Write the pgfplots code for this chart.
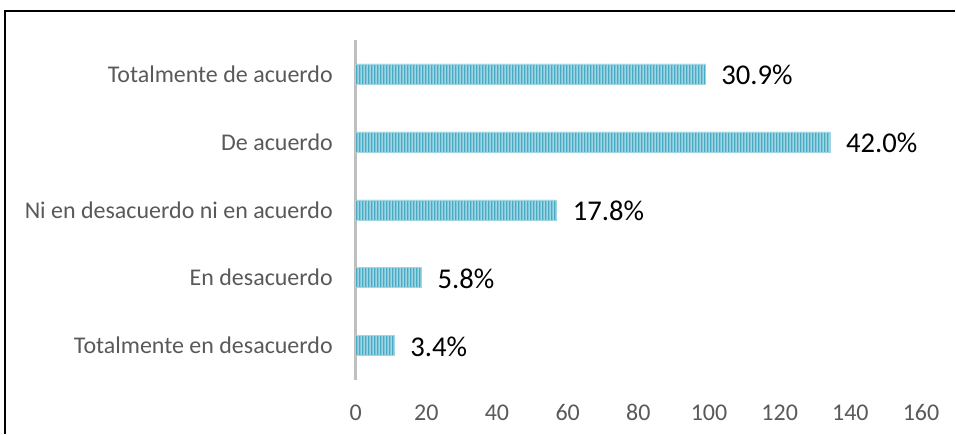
\documentclass[border=0pt]{standalone}
\usepackage{fontspec}
\setmainfont{Carlito}
\usepackage{pgfplots}
\pgfplotsset{compat=1.18}
\usetikzlibrary{patterns}

\definecolor{barlight}{RGB}{160,213,228}
\definecolor{bardark}{RGB}{72,171,198}
\definecolor{labelgray}{RGB}{89,89,89}
\definecolor{axisgray}{RGB}{191,191,191}

% vertical stripes, one every 3 px
\pgfdeclarepatternformonly{vstripes}{\pgfpointorigin}{\pgfpoint{2.25pt}{2.25pt}}{\pgfpoint{2.25pt}{2.25pt}}{
  \pgfpathrectangle{\pgfpoint{0pt}{0pt}}{\pgfpoint{1.1pt}{2.25pt}}
  \pgfusepath{fill}
}

\begin{document}
\begin{tikzpicture}
\path (0,0) rectangle (717pt,325.5pt);
\draw[line width=1.5pt] (3.75pt,0) -- (3.75pt,317.25pt) -- (717pt,317.25pt);
\begin{axis}[
    at={(267pt,40.5pt)}, anchor=south west,
    scale only axis,
    width=424.5pt, height=255pt,
    xbar,
    xmin=0, xmax=160,
    ymin=-0.5, ymax=4.5,
    xtick={0,20,...,160},
    ytick={0,1,2,3,4},
    yticklabels={Totalmente en desacuerdo, En desacuerdo, Ni en desacuerdo ni en acuerdo, De acuerdo, Totalmente de acuerdo},
    bar width=15pt,
    axis x line=bottom, axis y line=left,
    x axis line style={draw=none},
    y axis line style={draw=axisgray, line width=2.25pt, -},
    major tick length=0pt,
    /pgf/number format/assume math mode=true,
    xticklabel style={font=\fontsize{18}{20}\selectfont, text=labelgray, anchor=center, inner sep=0pt, yshift=-24.75pt},
    yticklabel style={font=\fontsize{18}{20}\selectfont, text=labelgray, anchor=east, inner sep=0pt, xshift=-17pt},
    point meta=explicit symbolic,
    nodes near coords,
    nodes near coords style={font=\fontsize{21.5}{24}\selectfont, text=black, anchor=west, inner sep=0pt, xshift=12pt, yshift=-1pt},
    clip=false,
]
\addplot[draw=barlight, line width=0.4pt, fill=barlight,
    postaction={pattern=vstripes, pattern color=bardark}]
    coordinates {
    (10.9,0) [3.4\%]
    (18.6,1) [5.8\%]
    (56.9,2) [17.8\%]
    (134.2,3) [42.0\%]
    (98.9,4) [30.9\%]
};
\end{axis}
\end{tikzpicture}
\end{document}
